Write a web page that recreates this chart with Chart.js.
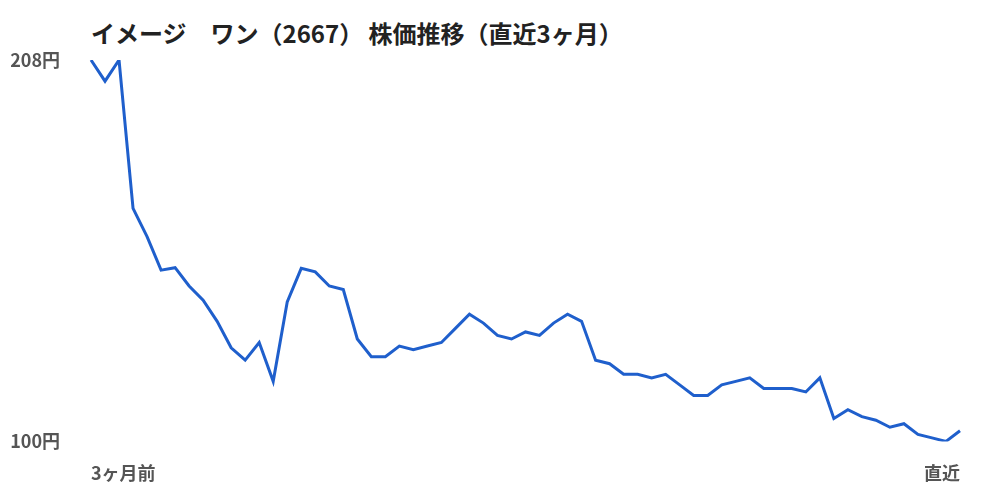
<!DOCTYPE html>
<html lang="ja">
<head>
<meta charset="utf-8">
<script src="https://cdn.jsdelivr.net/npm/chart.js@4"></script>
<style>
    html, body { margin: 0; padding: 0; background: #fff; }
    #wrap { position: relative; width: 1000px; height: 500px; }
    #title {
        position: absolute; left: 91px; top: 15px; margin: 0;
        font-family: "Noto Sans CJK JP", sans-serif; font-weight: bold;
        font-size: 24px; line-height: 36px; color: #222; white-space: pre;
    }
    #chart { position: absolute; left: 0; top: 0; }
</style>
</head>
<body>
<div id="wrap">
    <h1 id="title">イメージ　ワン（2667） 株価推移（直近3ヶ月）</h1>
    <canvas id="chart" width="1000" height="500"></canvas>
</div>
<script>
// 株価 (円) 約3ヶ月分
const prices = [
    208, 202, 208, 166, 158, 148.5, 149.2, 144, 140, 134,
    126.5, 123, 128, 117, 139.5, 149, 148, 144, 143, 129,
    124, 124, 127, 126, 127, 128, 132, 136, 133.5, 130,
    129, 131, 130, 133.5, 136, 134, 123, 122, 119, 119,
    118, 119, 116, 113, 113, 116, 117, 118, 115, 115,
    115, 114, 118, 106.5, 109, 107, 106, 104, 105, 102,
    101, 100, 103
];
const firstLabel = '3ヶ月前';
const lastLabel = '直近';
const yTicks = [100, 208];
const unit = '円';

const labels = prices.map(function(_, i) {
    if (i === 0) return firstLabel;
    if (i === prices.length - 1) return lastLabel;
    return '';
});

const tickFont = { family: '"Noto Sans CJK JP", sans-serif', size: 18, weight: 'bold' };

const ctx = document.getElementById('chart').getContext('2d');
const chart = new Chart(ctx, {
    type: 'line',
    data: {
        labels: labels,
        datasets: [{
            data: prices,
            borderColor: '#1f5fcc',
            borderWidth: 3,
            pointRadius: 0,
            tension: 0,
            fill: false
        }]
    },
    options: {
        responsive: false,
        animation: false,
        layout: { padding: { left: 10, right: 40, top: 60, bottom: 0 } },
        plugins: { legend: { display: false }, tooltip: { enabled: false } },
        scales: {
            x: {
                offset: false,
                grid: { display: false, drawTicks: false },
                border: { display: false },
                afterFit: function(scale) { scale.height -= 5; },
                ticks: {
                    autoSkip: false, maxRotation: 0, align: 'inner',
                    padding: 21, color: '#555', font: tickFont,
                    callback: function(v, i) { return labels[i] || null; }
                }
            },
            y: {
                min: 100, max: 208,
                grid: { display: false, drawTicks: false },
                border: { display: false },
                afterBuildTicks: function(scale) {
                    scale.ticks = yTicks.map(function(v) { return { value: v }; });
                },
                afterFit: function(scale) { scale.width = 81; },
                ticks: {
                    padding: 31, color: '#555', font: tickFont,
                    callback: function(v) { return v + unit; }
                }
            }
        }
    }
});
</script>
</body>
</html>
